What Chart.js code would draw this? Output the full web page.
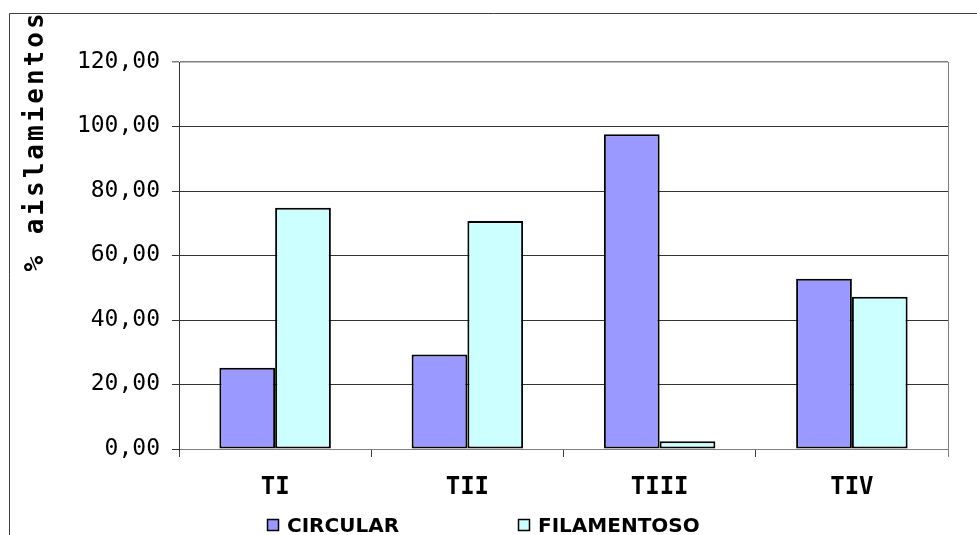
<!DOCTYPE html>
<html>
<head>
<meta charset="utf-8">
<script src="https://cdn.jsdelivr.net/npm/chart.js@4.4.1/dist/chart.umd.min.js"></script>
<style>
  body { margin: 0; background: #fff; }
  canvas { display: block; }
</style>
</head>
<body>
<canvas id="chart" width="977" height="535"></canvas>
<script>
const categories = ['TI', 'TII', 'TIII', 'TIV'];
const circular = [25.2, 29.3, 97.6, 52.8];
const filamentoso = [74.8, 70.7, 2.4, 47.2];
const yTitle = '% aislamientos';

// frame, plot right border, rotated title and legend
const decorations = {
  id: 'decorations',
  beforeDraw(chart) {
    const ctx = chart.ctx;
    ctx.save();
    ctx.fillStyle = '#fff';
    ctx.fillRect(0, 0, chart.width, chart.height);
    ctx.strokeStyle = '#404040';
    ctx.lineWidth = 1;
    ctx.beginPath();
    ctx.moveTo(9.5, chart.height);
    ctx.lineTo(9.5, 13.5);
    ctx.lineTo(chart.width, 13.5);
    ctx.stroke();
    ctx.restore();
  },
  afterDraw(chart) {
    const ctx = chart.ctx;
    const area = chart.chartArea;

    ctx.save();
    ctx.strokeStyle = '#808080';
    ctx.lineWidth = 1;
    ctx.beginPath();
    ctx.moveTo(Math.round(area.right) + 0.5, area.top);
    ctx.lineTo(Math.round(area.right) + 0.5, area.bottom + 8);
    ctx.stroke();
    ctx.restore();

    // y title, clipped by the frame
    ctx.save();
    ctx.beginPath();
    ctx.rect(10, 14, chart.width, chart.height);
    ctx.clip();
    ctx.translate(43, 141);
    ctx.rotate(-Math.PI / 2);
    ctx.font = 'bold 26px "DejaVu Sans Mono"';
    ctx.letterSpacing = '3px';
    ctx.fillStyle = '#000';
    ctx.textAlign = 'center';
    ctx.textBaseline = 'alphabetic';
    ctx.fillText(yTitle, 0, 0);
    ctx.restore();

    // legend
    ctx.save();
    ctx.font = 'bold 20px "DejaVu Sans"';
    ctx.textBaseline = 'alphabetic';
    const starts = [267, 518];
    chart.data.datasets.forEach((ds, i) => {
      const x = starts[i];
      ctx.fillStyle = ds.backgroundColor;
      ctx.fillRect(x, 519, 11, 11);
      ctx.strokeStyle = '#000';
      ctx.lineWidth = 1.5;
      ctx.strokeRect(x + 0.5, 519.5, 11, 11);
      ctx.fillStyle = '#000';
      ctx.fillText(ds.label, x + 20, 532);
    });
    ctx.restore();
  }
};

new Chart(document.getElementById('chart'), {
  type: 'bar',
  data: {
    labels: categories,
    datasets: [
      {
        label: 'CIRCULAR',
        data: circular,
        backgroundColor: '#9999FF',
        borderColor: '#000',
        borderWidth: 2,
        borderSkipped: false,
      },
      {
        label: 'FILAMENTOSO',
        data: filamentoso,
        backgroundColor: '#CCFFFF',
        borderColor: '#000',
        borderWidth: 2,
        borderSkipped: false,
      },
    ],
  },
  options: {
    responsive: false,
    animation: false,
    layout: { padding: { left: 0, right: 29, top: 62, bottom: 30 } },
    datasets: { bar: { categoryPercentage: 0.58, barPercentage: 1 } },
    plugins: {
      legend: { display: false },
      tooltip: { enabled: false },
    },
    scales: {
      x: {
        afterFit: (scale) => { scale.height = 56; },
        grid: {
          offset: true,
          drawOnChartArea: false,
          tickLength: 8,
          color: '#404040',
        },
        border: { color: '#808080', width: 1 },
        ticks: {
          padding: 16,
          color: '#000',
          font: { family: 'DejaVu Sans Mono', size: 24, weight: 'bold' },
        },
      },
      y: {
        min: 0,
        max: 120,
        afterFit: (scale) => { scale.width = 179; },
        grid: {
          color: (c) => (c.tick && c.tick.value === 120 ? '#808080' : '#333'),
          lineWidth: (c) => (c.tick && c.tick.value === 120 ? 1.5 : 1),
          tickLength: 7,
        },
        border: { color: '#333', width: 1 },
        ticks: {
          stepSize: 20,
          padding: 12,
          color: '#000',
          font: { family: 'DejaVu Sans Mono', size: 23 },
          callback: (v) => v.toFixed(2).replace('.', ','),
        },
      },
    },
  },
  plugins: [decorations],
});
</script>
</body>
</html>
